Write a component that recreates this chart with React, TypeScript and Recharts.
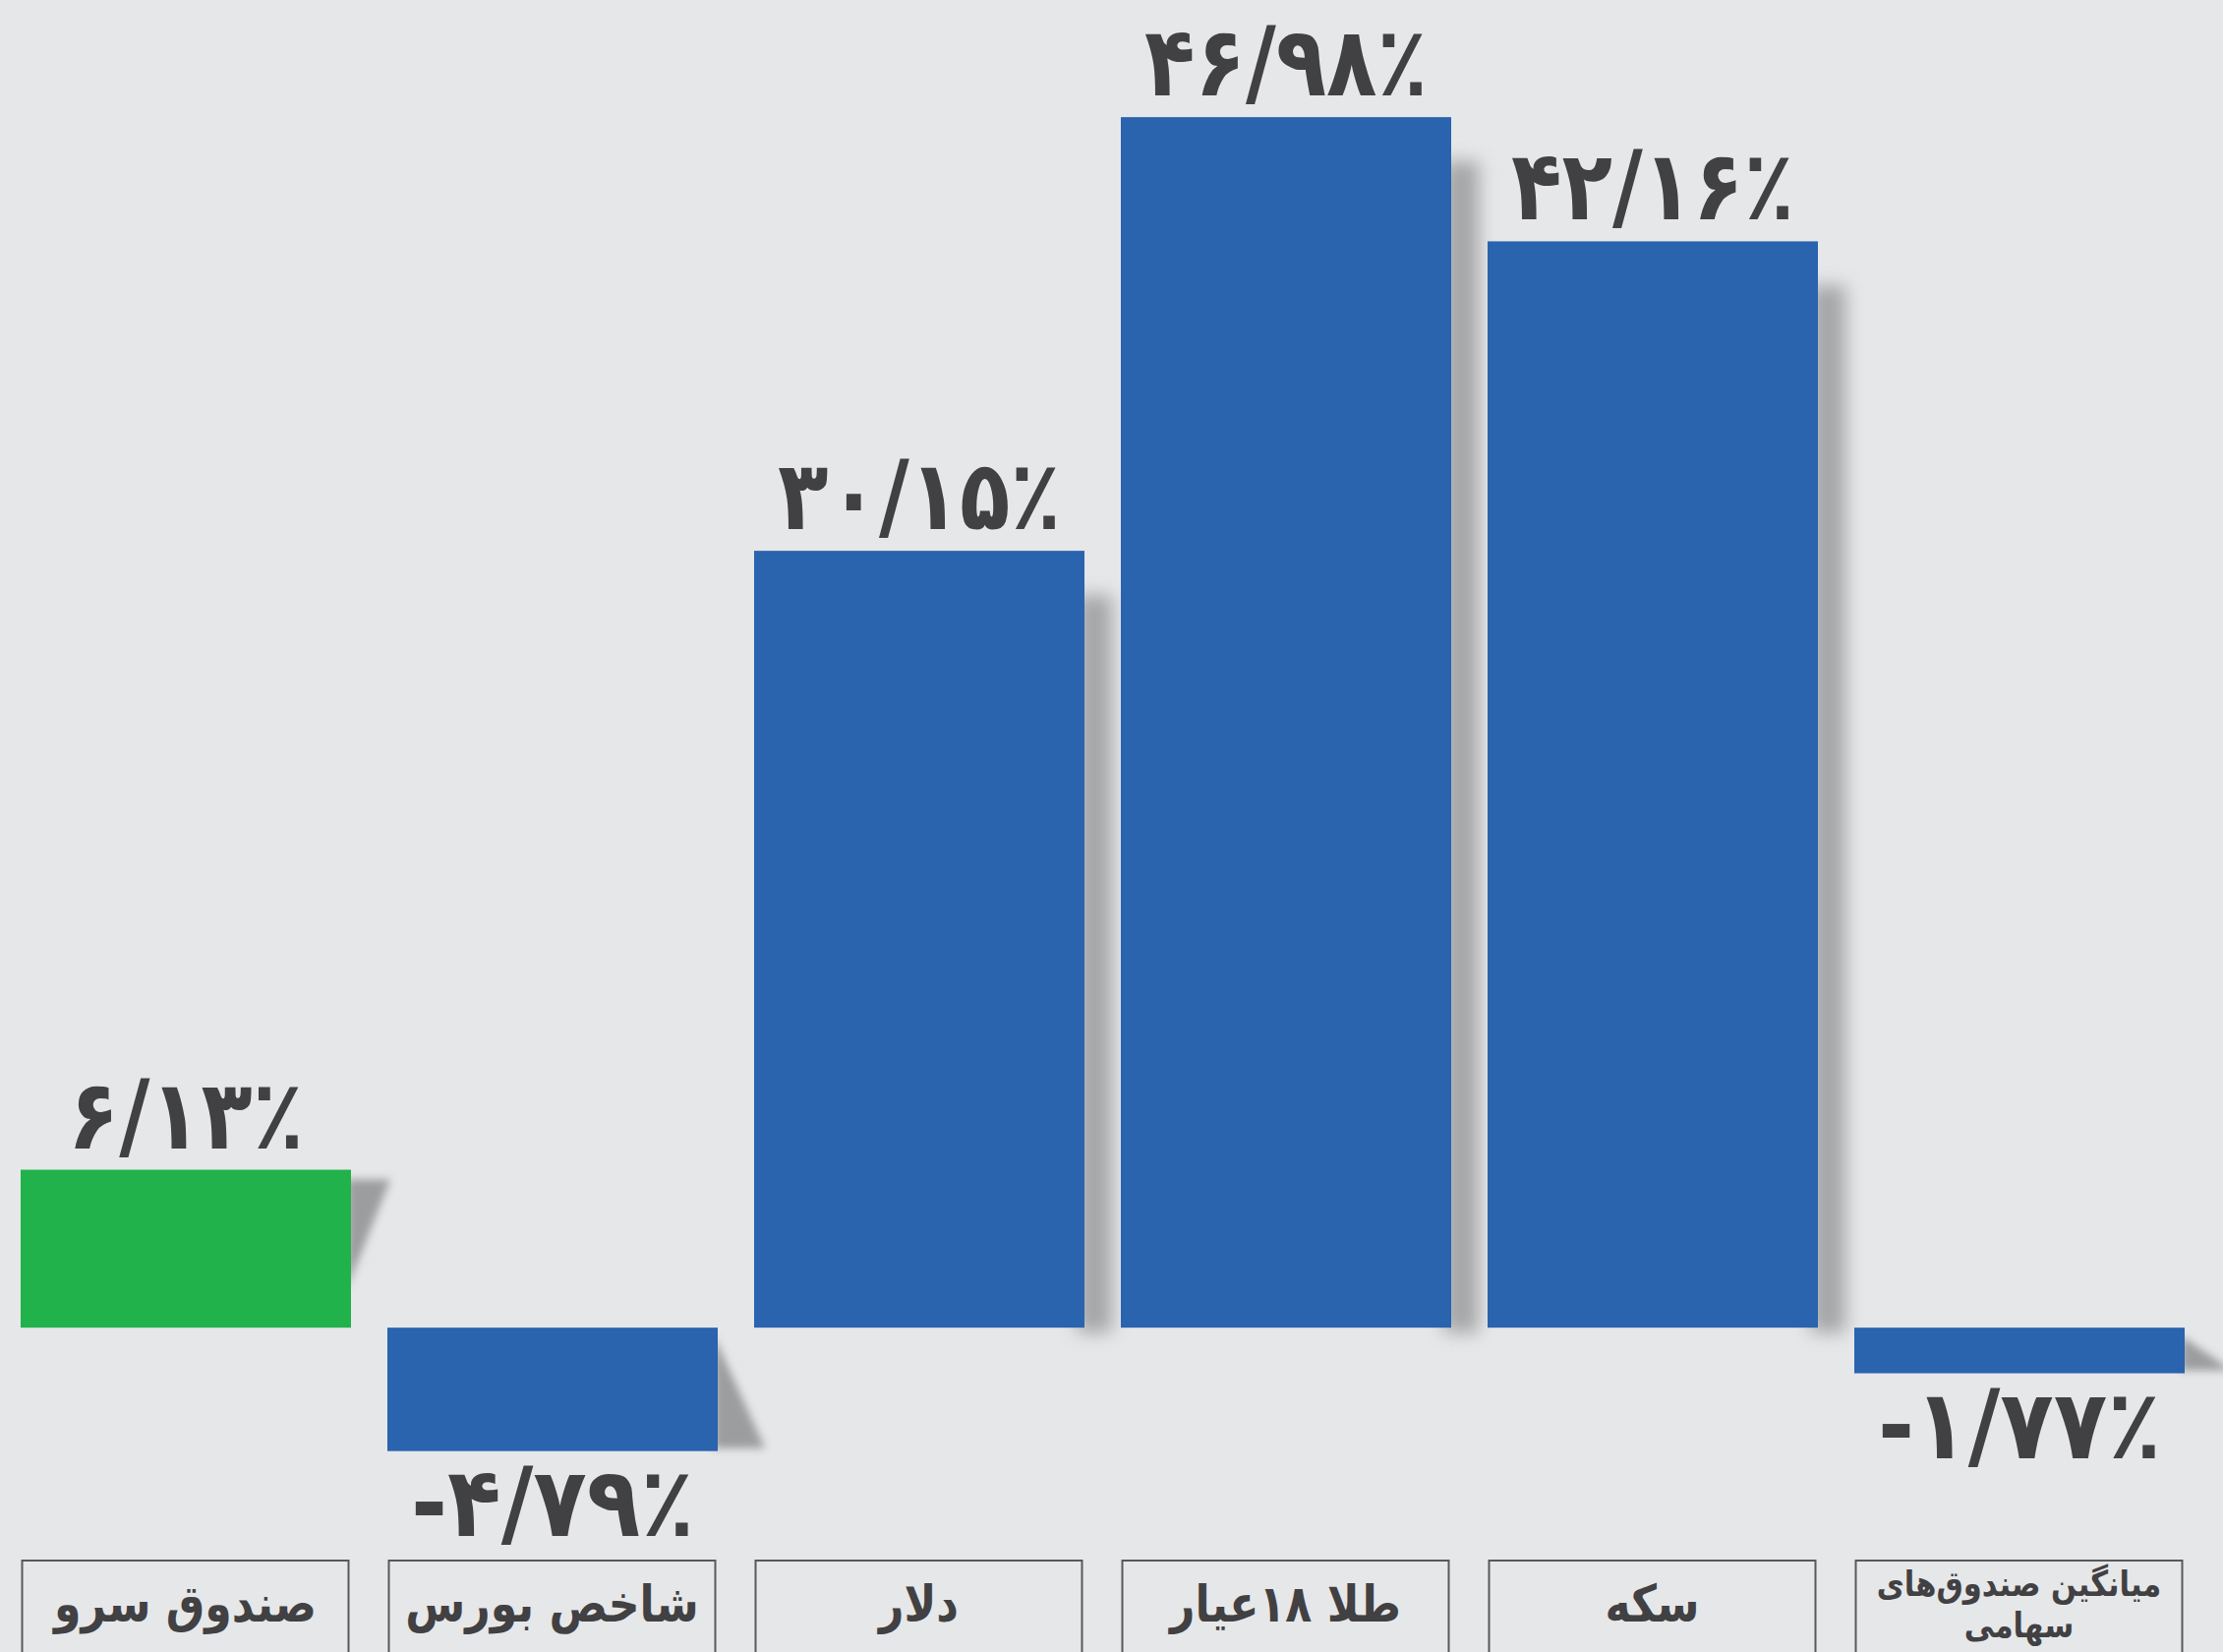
import React from "react";
import { BarChart, Bar, XAxis, YAxis, Cell, LabelList } from "recharts";

const categories = [
  "صندوق سرو",
  "شاخص بورس",
  "دلار",
  "طلا ۱۸عیار",
  "سکه",
  "میانگین صندوق‌های\nسهامی",
];
const returns = [6.13, -4.79, 30.15, 46.98, 42.16, -1.77];
const barColors = ["#21b24b", "#2a63ae", "#2a63ae", "#2a63ae", "#2a63ae", "#2a63ae"];

const data = categories.map((name, i) => ({ name, value: returns[i] }));

const TEXT = "#414042";
const BG = "#e6e7e9";
const FA_DIGITS = "۰۱۲۳۴۵۶۷۸۹";

function formatPct(v: number): string {
  const s = Math.abs(v).toFixed(2).replace(".", "/");
  const fa = s.replace(/[0-9]/g, (d) => FA_DIGITS[Number(d)]);
  return (v < 0 ? "-" : "") + fa + "٪";
}

const ShadowBar = (props: any) => {
  const { x, y, width, height, fill } = props;
  const top = height < 0 ? y + height : y;
  const h = Math.abs(height);
  const bottom = top + h;
  const r = x + width;
  let shadow: React.ReactNode;
  if (h > 300) {
    shadow = (
      <rect x={r - 8} y={top + 45} width={36} height={h - 40} fill="#8a8b8d" opacity={0.7} style={{ filter: "blur(9px)" }} />
    );
  } else if (props.value >= 0) {
    shadow = (
      <polygon points={`${r - 4},${top + 10} ${r + 40},${top + 10} ${r - 4},${top + h * 0.75}`} fill="#8a8b8d" opacity={0.8} style={{ filter: "blur(4px)" }} />
    );
  } else {
    shadow = (
      <polygon points={`${r - 4},${top + 8} ${r - 4},${bottom - 3} ${r + 48},${bottom - 3}`} fill="#8a8b8d" opacity={0.8} style={{ filter: "blur(4px)" }} />
    );
  }
  return (
    <g>
      {shadow}
      <rect x={x} y={top} width={width} height={h} fill={fill} />
    </g>
  );
};

const ValueLabel = (props: any) => {
  const { x, y, width, height, value } = props;
  const top = height < 0 ? y + height : y;
  const bottom = top + Math.abs(height);
  const text = formatPct(value);
  const cx = x + width / 2;
  const baseline = value >= 0 ? top - 22 : bottom + 86;
  return (
    <text
      x={cx}
      y={baseline}
      textAnchor="middle"
      fontSize={98}
      fontWeight={700}
      fill={TEXT}
      fontFamily="'DejaVu Sans', sans-serif"
      textLength={text.length * 48}
      lengthAdjust="spacingAndGlyphs"
    >
      {text}
    </text>
  );
};

const CategoryTick = (props: any) => {
  const { x, y, payload } = props;
  const lines: string[] = String(payload.value).split("\n");
  const bw = 332;
  const boxTop = y + 1;
  return (
    <g>
      <rect x={x - bw / 2} y={boxTop} width={bw} height={140} fill="none" stroke="#58595b" strokeWidth={2} />
      <g transform={`translate(${x},0) scale(0.85,1)`}>
        {lines.length === 1 ? (
          <text x={0} y={boxTop + 62} textAnchor="middle" direction="rtl" fontSize={52} fontWeight={700} fill={TEXT} fontFamily="'DejaVu Sans', sans-serif">
            {lines[0]}
          </text>
        ) : (
          lines.map((ln, i) => (
            <text key={i} x={0} y={boxTop + 36 + i * 42} textAnchor="middle" direction="rtl" fontSize={36} fontWeight={700} fill={TEXT} fontFamily="'DejaVu Sans', sans-serif">
              {ln}
            </text>
          ))
        )}
      </g>
    </g>
  );
};

export default function App() {
  return (
    <div style={{ width: 2261, height: 1680, background: BG, position: "absolute", left: 0, top: 0, overflow: "hidden" }}>
      <style>{`body{margin:0;background:${BG};}`}</style>
      <BarChart width={2261} height={1680} data={data} margin={{ top: 40, right: 21, left: 2, bottom: 0 }} barSize={336}>
        <YAxis hide domain={[-9, 50]} allowDataOverflow type="number" />
        <XAxis
          dataKey="name"
          height={94}
          axisLine={false}
          tickLine={false}
          tickSize={0}
          tickMargin={0}
          interval={0}
          tick={<CategoryTick />}
        />
        <Bar dataKey="value" isAnimationActive={false} shape={<ShadowBar />}>
          {data.map((d, i) => (
            <Cell key={i} fill={barColors[i]} />
          ))}
          <LabelList dataKey="value" content={<ValueLabel />} />
        </Bar>
      </BarChart>
    </div>
  );
}
